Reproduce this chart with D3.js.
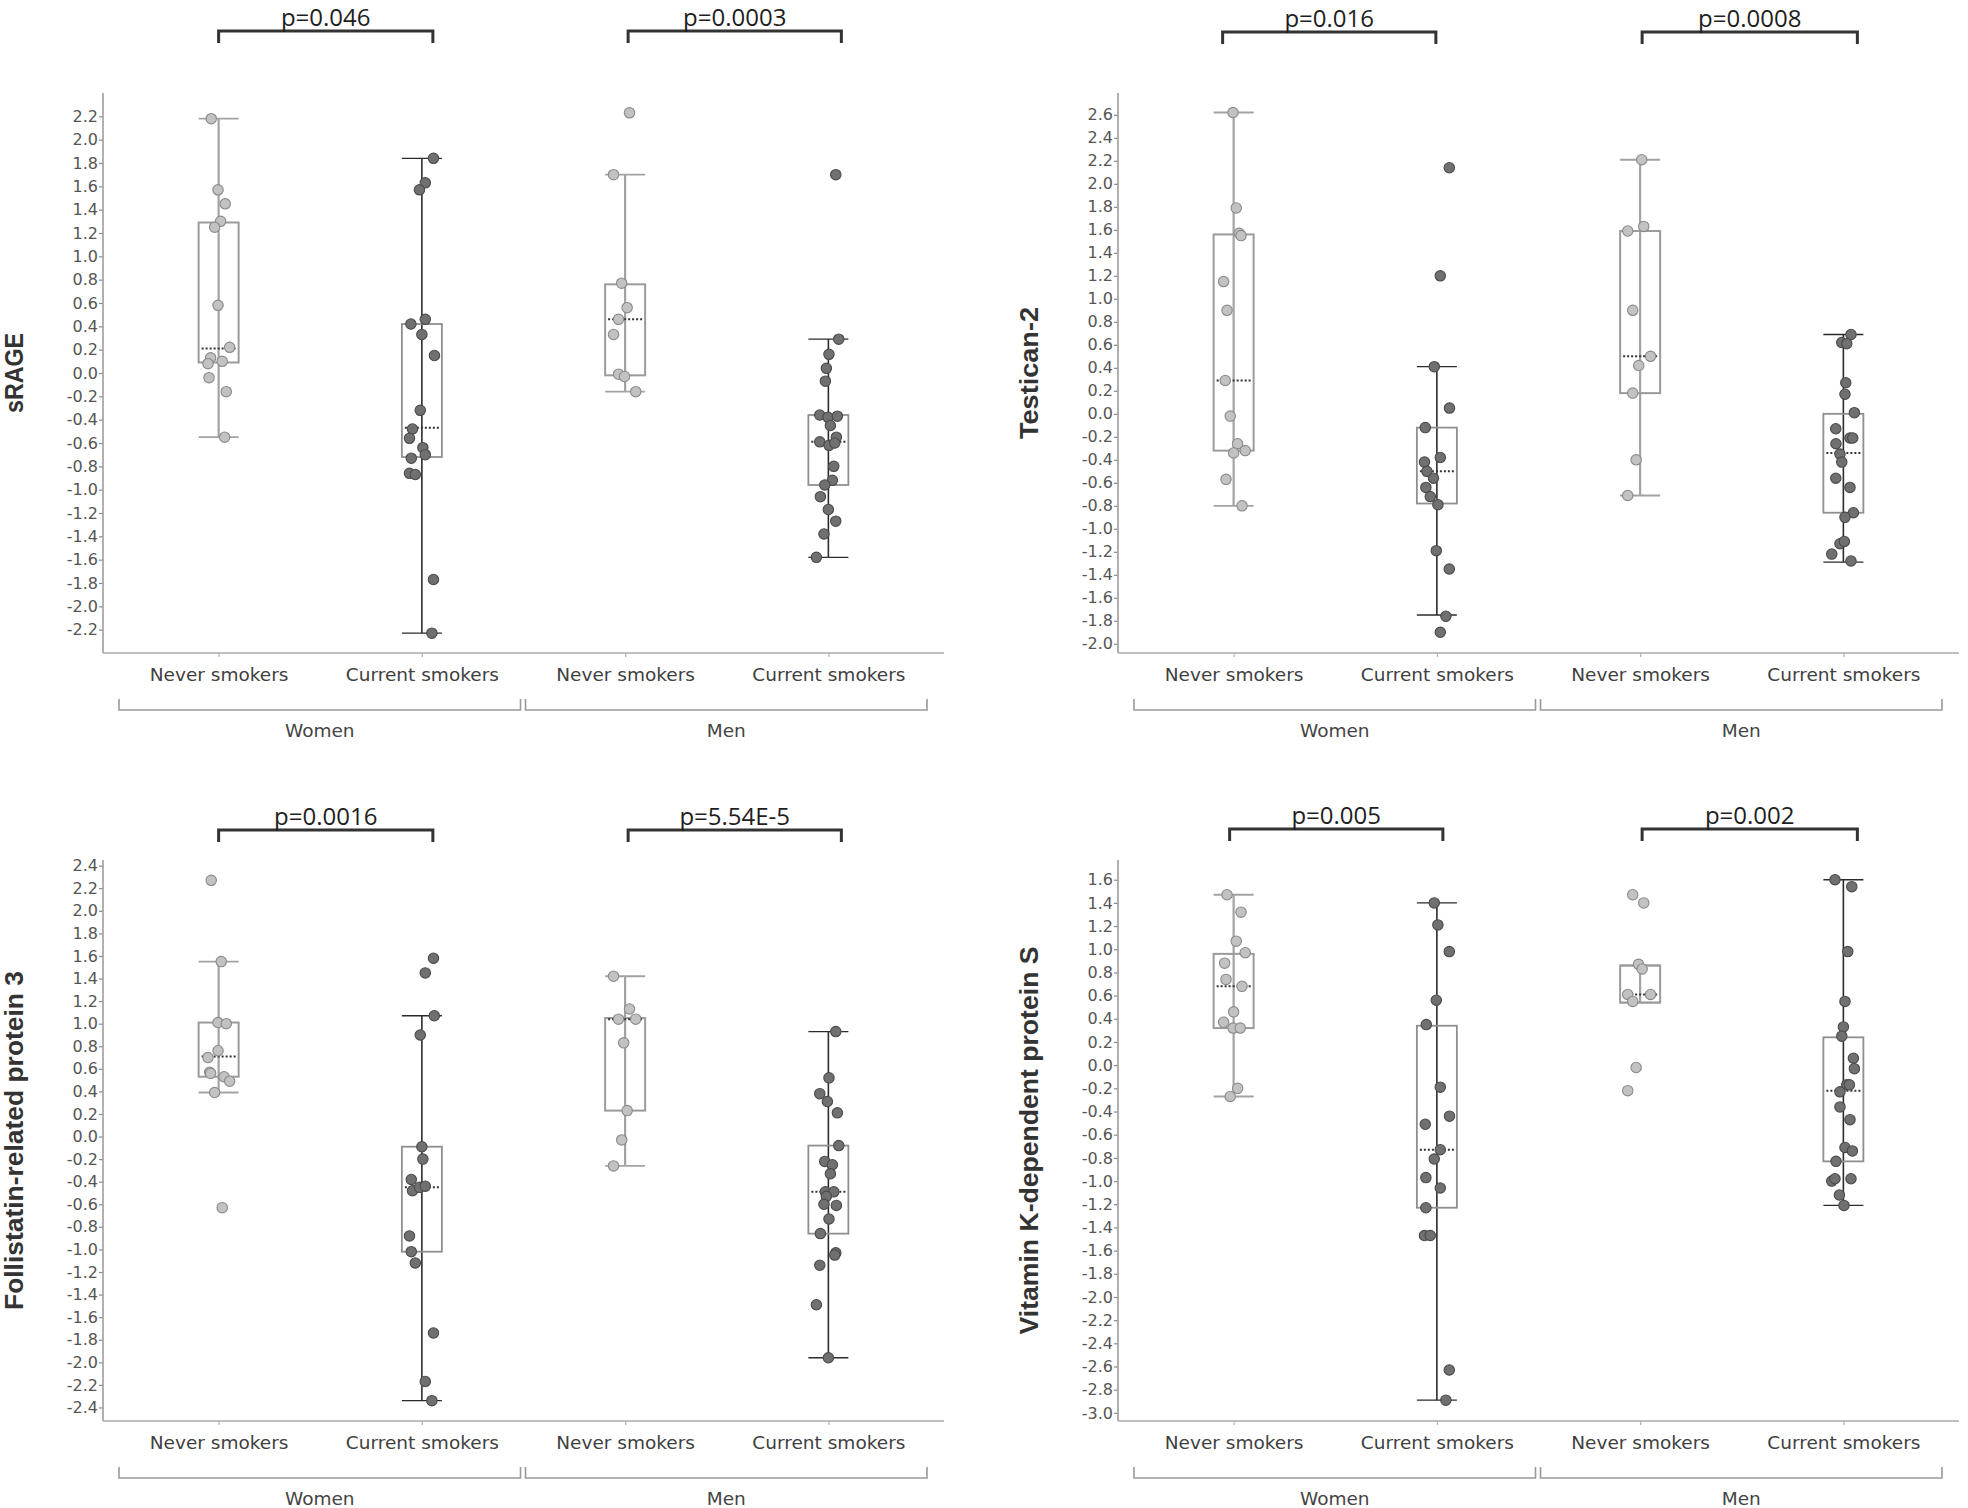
<!DOCTYPE html>
<html>
<head>
<meta charset="utf-8">
<script src="https://cdn.jsdelivr.net/npm/d3@7"></script>
<style>
  html, body { margin: 0; padding: 0; background: #ffffff; }
  svg { display: block; }
</style>
</head>
<body>
<div id="chart"></div>
<script>
// ---------------- DATA ----------------
const categories = ["Never smokers", "Current smokers", "Never smokers", "Current smokers"];
const groupLabels = ["Women", "Men"];
const panelTitles = ["sRAGE", "Testican-2", "Follistatin-related protein 3", "Vitamin K-dependent protein S"];
const pValues = [["p=0.046", "p=0.0003"], ["p=0.016", "p=0.0008"], ["p=0.0016", "p=5.54E-5"], ["p=0.005", "p=0.002"]];

// y-axis tick labels per panel
const ticksSRAGE = [-2.2, -2.0, -1.8, -1.6, -1.4, -1.2, -1.0, -0.8, -0.6, -0.4, -0.2, 0.0, 0.2, 0.4, 0.6, 0.8, 1.0, 1.2, 1.4, 1.6, 1.8, 2.0, 2.2];
const ticksTestican = [-2.0, -1.8, -1.6, -1.4, -1.2, -1.0, -0.8, -0.6, -0.4, -0.2, 0.0, 0.2, 0.4, 0.6, 0.8, 1.0, 1.2, 1.4, 1.6, 1.8, 2.0, 2.2, 2.4, 2.6];
const ticksFRP3 = [-2.4, -2.2, -2.0, -1.8, -1.6, -1.4, -1.2, -1.0, -0.8, -0.6, -0.4, -0.2, 0.0, 0.2, 0.4, 0.6, 0.8, 1.0, 1.2, 1.4, 1.6, 1.8, 2.0, 2.2, 2.4];
const ticksVitK = [-3.0, -2.8, -2.6, -2.4, -2.2, -2.0, -1.8, -1.6, -1.4, -1.2, -1.0, -0.8, -0.6, -0.4, -0.2, 0.0, 0.2, 0.4, 0.6, 0.8, 1.0, 1.2, 1.4, 1.6];

// y-axis ranges per panel
const domainSRAGE = [-2.4, 2.4];
const domainTestican = [-2.08, 2.79];
const domainFRP3 = [-2.52, 2.45];
const domainVitK = [-3.07, 1.77];

// individual values (per category, in category order)
const pointsSRAGE = [
  [2.18, 1.57, 1.45, 1.30, 1.25, 0.58, 0.22, 0.13, 0.10, 0.08, -0.04, -0.16, -0.55],
  [1.84, 1.63, 1.57, 0.42, 0.46, 0.33, 0.15, -0.32, -0.48, -0.56, -0.64, -0.70, -0.73, -0.86, -0.87, -1.77, -2.23],
  [2.23, 1.70, 0.77, 0.56, 0.46, 0.33, -0.01, -0.03, -0.16],
  [1.70, 0.29, 0.16, 0.04, -0.07, -0.36, -0.38, -0.37, -0.45, -0.55, -0.59, -0.62, -0.60, -0.80, -0.92, -0.96, -1.06, -1.17, -1.27, -1.38, -1.58]
];
const pointsTestican = [
  [2.62, 1.79, 1.57, 1.55, 1.15, 0.90, 0.29, -0.02, -0.26, -0.32, -0.34, -0.57, -0.80],
  [2.14, 1.20, 0.41, 0.05, -0.12, -0.38, -0.42, -0.50, -0.56, -0.64, -0.72, -0.79, -1.19, -1.35, -1.76, -1.90],
  [2.21, 1.59, 1.63, 0.90, 0.50, 0.42, 0.18, -0.40, -0.71],
  [0.69, 0.62, 0.61, 0.27, 0.17, 0.01, -0.13, -0.21, -0.21, -0.26, -0.35, -0.42, -0.56, -0.64, -0.86, -0.90, -1.13, -1.11, -1.22, -1.28]
];
const pointsFRP3 = [
  [2.27, 1.55, 1.01, 1.00, 0.76, 0.70, 0.57, 0.56, 0.53, 0.49, 0.39, -0.63],
  [1.58, 1.45, 1.07, 0.90, -0.09, -0.20, -0.38, -0.48, -0.45, -0.44, -0.88, -1.02, -1.12, -1.74, -2.17, -2.34],
  [1.42, 1.13, 1.04, 1.04, 0.83, 0.23, -0.03, -0.26],
  [0.93, 0.52, 0.38, 0.31, 0.21, -0.08, -0.22, -0.25, -0.33, -0.49, -0.49, -0.53, -0.60, -0.61, -0.73, -0.86, -1.03, -1.05, -1.14, -1.49, -1.96]
];
const pointsVitK = [
  [1.47, 1.32, 1.07, 0.97, 0.88, 0.74, 0.68, 0.46, 0.37, 0.32, 0.32, -0.20, -0.27],
  [1.40, 1.21, 0.98, 0.56, 0.35, -0.19, -0.44, -0.51, -0.73, -0.81, -0.97, -1.06, -1.23, -1.47, -1.47, -2.63, -2.89],
  [1.47, 1.40, 0.87, 0.83, 0.61, 0.61, 0.55, -0.02, -0.22],
  [1.60, 1.54, 0.98, 0.55, 0.33, 0.25, 0.06, -0.03, -0.17, -0.17, -0.23, -0.36, -0.47, -0.71, -0.74, -0.83, -1.00, -0.98, -0.98, -1.12, -1.21]
];

// horizontal jitter of each point, as a fraction of the box half-width
const jitterSRAGE = [
  [-0.37, -0.03, 0.33, 0.10, -0.20, -0.03, 0.55, -0.40, 0.18, -0.53, -0.48, 0.38, 0.30],
  [0.58, 0.17, -0.12, -0.55, 0.17, 0.00, 0.63, -0.08, -0.47, -0.62, 0.05, 0.17, -0.53, -0.62, -0.33, 0.58, 0.50],
  [0.22, -0.58, -0.17, 0.10, -0.33, -0.58, -0.33, -0.03, 0.53],
  [0.37, 0.52, 0.03, -0.10, -0.15, -0.43, -0.02, 0.45, 0.10, 0.40, -0.43, 0.03, 0.32, 0.27, 0.20, -0.18, -0.40, 0.00, 0.37, -0.22, -0.60]
];
const jitterTestican = [
  [-0.03, 0.13, 0.28, 0.37, -0.50, -0.33, -0.42, -0.17, 0.20, 0.58, 0.00, -0.38, 0.42],
  [0.62, 0.17, -0.13, 0.63, -0.58, 0.17, -0.62, -0.50, -0.17, -0.55, -0.33, 0.05, -0.03, 0.62, 0.45, 0.17],
  [0.08, -0.62, 0.18, -0.37, 0.52, -0.07, -0.37, -0.20, -0.62],
  [0.38, -0.08, 0.17, 0.12, 0.08, 0.55, -0.38, 0.33, 0.47, -0.37, -0.17, -0.08, -0.38, 0.33, 0.50, 0.08, -0.17, 0.05, -0.58, 0.38]
];
const jitterFRP3 = [
  [-0.37, 0.13, -0.03, 0.38, -0.03, -0.53, -0.45, -0.40, 0.27, 0.55, -0.20, 0.18],
  [0.58, 0.17, 0.62, -0.08, 0.00, 0.05, -0.53, -0.47, -0.12, 0.17, -0.62, -0.53, -0.33, 0.58, 0.17, 0.50],
  [-0.58, 0.22, -0.33, 0.53, -0.07, 0.10, -0.17, -0.58],
  [0.37, 0.03, -0.43, -0.05, 0.45, 0.52, -0.18, 0.20, 0.10, -0.15, 0.27, -0.10, -0.22, 0.40, 0.03, -0.40, 0.37, 0.32, -0.43, -0.60, 0.00]
];
const jitterVitK = [
  [-0.33, 0.37, 0.13, 0.58, -0.45, -0.38, 0.42, 0.00, -0.50, -0.03, 0.33, 0.20, -0.17],
  [-0.13, 0.05, 0.62, -0.03, -0.53, 0.17, 0.63, -0.58, 0.17, -0.13, -0.55, 0.17, -0.55, -0.62, -0.33, 0.62, 0.45],
  [-0.37, 0.18, -0.08, 0.10, -0.62, 0.52, -0.37, -0.20, -0.62],
  [-0.42, 0.42, 0.22, 0.08, 0.00, -0.08, 0.50, 0.55, 0.17, 0.30, -0.17, -0.17, 0.33, 0.08, 0.45, -0.37, -0.58, -0.42, 0.38, -0.20, 0.03]
];

// box statistics per category: [lower whisker, Q1, median, Q3, upper whisker]
const boxesSRAGE = [
  [-0.55, 0.09, 0.21, 1.29, 2.18],
  [-2.23, -0.72, -0.47, 0.42, 1.84],
  [-0.16, -0.02, 0.46, 0.76, 1.70],
  [-1.58, -0.96, -0.59, -0.36, 0.29]
];
const boxesTestican = [
  [-0.80, -0.32, 0.29, 1.56, 2.62],
  [-1.75, -0.78, -0.50, -0.12, 0.41],
  [-0.71, 0.18, 0.50, 1.59, 2.21],
  [-1.29, -0.86, -0.34, 0.00, 0.69]
];
const boxesFRP3 = [
  [0.39, 0.53, 0.71, 1.01, 1.55],
  [-2.34, -1.02, -0.45, -0.09, 1.07],
  [-0.26, 0.23, 1.04, 1.05, 1.42],
  [-1.96, -0.86, -0.49, -0.08, 0.93]
];
const boxesVitK = [
  [-0.27, 0.32, 0.68, 0.96, 1.47],
  [-2.89, -1.23, -0.73, 0.34, 1.40],
  [0.54, 0.54, 0.61, 0.86, 0.86],
  [-1.21, -0.83, -0.22, 0.24, 1.60]
];

// ---------------- LAYOUT / STYLE ----------------
const W = 1968, H = 1508;
const panels = [
  { title: panelTitles[0], p: pValues[0], pts: pointsSRAGE, jit: jitterSRAGE, box: boxesSRAGE, ticks: ticksSRAGE, dom: domainSRAGE,
    left: 103, right: 944, top: 93, bottom: 653, brY: 31, brShift: [[0, 11], [3, 13]] },
  { title: panelTitles[1], p: pValues[1], pts: pointsTestican, jit: jitterTestican, box: boxesTestican, ticks: ticksTestican, dom: domainTestican,
    left: 1118, right: 1959, top: 93, bottom: 653, brY: 32, brShift: [[-11, -1], [2, 14]] },
  { title: panelTitles[2], p: pValues[2], pts: pointsFRP3, jit: jitterFRP3, box: boxesFRP3, ticks: ticksFRP3, dom: domainFRP3,
    left: 103, right: 944, top: 860, bottom: 1421, brY: 830, brShift: [[0, 11], [3, 13]] },
  { title: panelTitles[3], p: pValues[3], pts: pointsVitK, jit: jitterVitK, box: boxesVitK, ticks: ticksVitK, dom: domainVitK,
    left: 1118, right: 1959, top: 860, bottom: 1421, brY: 829, brShift: [[-4, 6], [2, 14]] }
];

const BOX_HALF = 20;
const styleNever = { dotFill: "#c2c2c2", dotStroke: "#8a8a8a", whisker: "#a3a3a3", whiskerW: 2.2, boxStroke: "#9b9b9b", boxW: 2 };
const styleCurrent = { dotFill: "#707070", dotStroke: "#4a4a4a", whisker: "#2b2b2b", whiskerW: 1.6, boxStroke: "#8f8f8f", boxW: 1.8 };

const fmt = v => (v < 0 ? "-" : "") + Math.abs(v).toFixed(1);

const svg = d3.select("#chart").append("svg")
  .attr("width", W).attr("height", H)
  .attr("viewBox", `0 0 ${W} ${H}`);

panels.forEach(P => {
  const g = svg.append("g");
  const x = d3.scaleBand()
    .domain(d3.range(categories.length))
    .range([P.left + 14, P.right - 14])
    .paddingInner(0).paddingOuter(0);
  const cx = i => x(i) + x.bandwidth() / 2;
  const y = d3.scaleLinear().domain(P.dom).range([P.bottom, P.top]);

  // y axis
  const yAxis = d3.axisLeft(y).tickValues(P.ticks).tickFormat(fmt).tickSize(4).tickPadding(1);
  const ya = g.append("g").attr("transform", `translate(${P.left},0)`).call(yAxis);
  ya.select(".domain").remove();
  ya.selectAll(".tick line").attr("stroke", "#8a8a8a").attr("stroke-width", 1.2);
  ya.selectAll(".tick text").attr("fill", "#555").style("font-family", "'DejaVu Sans', Verdana, sans-serif").style("font-size", "16px");
  g.append("line").attr("x1", P.left).attr("x2", P.left).attr("y1", P.top).attr("y2", P.bottom)
    .attr("stroke", "#9d9d9d").attr("stroke-width", 1.6);

  // x axis
  const xAxis = d3.axisBottom(d3.scalePoint().domain(d3.range(4)).range([cx(0), cx(3)]))
    .tickFormat(i => categories[i]).tickSize(4).tickPadding(10);
  const xa = g.append("g").attr("transform", `translate(0,${P.bottom})`).call(xAxis);
  xa.select(".domain").remove();
  xa.selectAll(".tick line").attr("stroke", "#b0b0b0").attr("stroke-width", 1.2);
  xa.selectAll(".tick text").attr("fill", "#404040").attr("dy", 0).attr("y", 681 - 653)
    .style("font-family", "'DejaVu Sans', Verdana, sans-serif").style("font-size", "18.5px");
  g.append("line").attr("x1", P.left).attr("x2", P.right).attr("y1", P.bottom).attr("y2", P.bottom)
    .attr("stroke", "#ababab").attr("stroke-width", 1.6);

  // group brackets below axis
  groupLabels.forEach((lab, gi) => {
    const x0 = x(gi * 2) + 2, x1 = x(gi * 2 + 1) + x.bandwidth() - 3;
    const by = P.bottom + 57;
    g.append("path")
      .attr("d", `M${x0},${by - 11}V${by}H${x1}V${by - 11}`)
      .attr("fill", "none").attr("stroke", "#9a9a9a").attr("stroke-width", 1.6);
    g.append("text").attr("x", (x0 + x1) / 2).attr("y", by + 27)
      .attr("text-anchor", "middle").attr("fill", "#444")
      .style("font-family", "'DejaVu Sans', Verdana, sans-serif").style("font-size", "18.5px")
      .text(lab);
  });

  // y-axis title
  const titleLen = { "sRAGE": 80, "Testican-2": 132, "Follistatin-related protein 3": 339, "Vitamin K-dependent protein S": 388 }[P.title];
  g.append("text")
    .attr("transform", `translate(${P.left - 80},${(P.top + P.bottom) / 2}) rotate(-90)`)
    .attr("text-anchor", "middle").attr("fill", "#333")
    .attr("textLength", titleLen).attr("lengthAdjust", "spacingAndGlyphs")
    .style("font-family", "'Liberation Sans Narrow', 'Liberation Sans', Arial, sans-serif")
    .style("font-size", "26px").style("font-weight", "bold")
    .text(P.title);

  // boxes
  P.box.forEach((b, i) => {
    const st = (i % 2 === 0) ? styleNever : styleCurrent;
    const c = cx(i);
    const [lo, q1, med, q3, hi] = b;
    g.append("line").attr("x1", c).attr("x2", c).attr("y1", y(hi)).attr("y2", y(lo))
      .attr("stroke", st.whisker).attr("stroke-width", st.whiskerW);
    [lo, hi].forEach(v => {
      g.append("line").attr("x1", c - BOX_HALF).attr("x2", c + BOX_HALF).attr("y1", y(v)).attr("y2", y(v))
        .attr("stroke", st.whisker).attr("stroke-width", st.whiskerW * 0.85);
    });
    g.append("rect").attr("x", c - BOX_HALF).attr("y", y(q3)).attr("width", BOX_HALF * 2)
      .attr("height", Math.max(0.5, y(q1) - y(q3)))
      .attr("fill", "none").attr("stroke", st.boxStroke).attr("stroke-width", st.boxW);
    g.append("line").attr("x1", c - BOX_HALF + 3).attr("x2", c + BOX_HALF - 3).attr("y1", y(med)).attr("y2", y(med))
      .attr("stroke", "#333").attr("stroke-width", 2).attr("stroke-dasharray", "2,2");
  });

  // points
  P.pts.forEach((vals, i) => {
    const st = (i % 2 === 0) ? styleNever : styleCurrent;
    const c = cx(i);
    const jx = d3.scaleLinear().domain([-1, 1]).range([c - BOX_HALF, c + BOX_HALF]);
    g.append("g").selectAll("circle").data(vals).join("circle")
      .attr("cx", (v, k) => jx(P.jit[i][k]))
      .attr("cy", v => y(v))
      .attr("r", 5.2)
      .attr("fill", st.dotFill).attr("stroke", st.dotStroke).attr("stroke-width", 1.1);
  });

  // p-value brackets
  [0, 1].forEach(gi => {
    const x0 = cx(gi * 2) + P.brShift[gi][0];
    const x1 = cx(gi * 2 + 1) + P.brShift[gi][1];
    g.append("path").attr("d", `M${x0},${P.brY + 12}V${P.brY}H${x1}V${P.brY + 12}`)
      .attr("fill", "none").attr("stroke", "#333").attr("stroke-width", 3);
    g.append("text").attr("x", (x0 + x1) / 2).attr("y", P.brY - 5)
      .attr("text-anchor", "middle").attr("fill", "#1e1e1e")
      .style("font-family", "'Open Sans', sans-serif").style("font-size", "24px")
      .text(P.p[gi]);
  });
});
</script>
</body>
</html>
